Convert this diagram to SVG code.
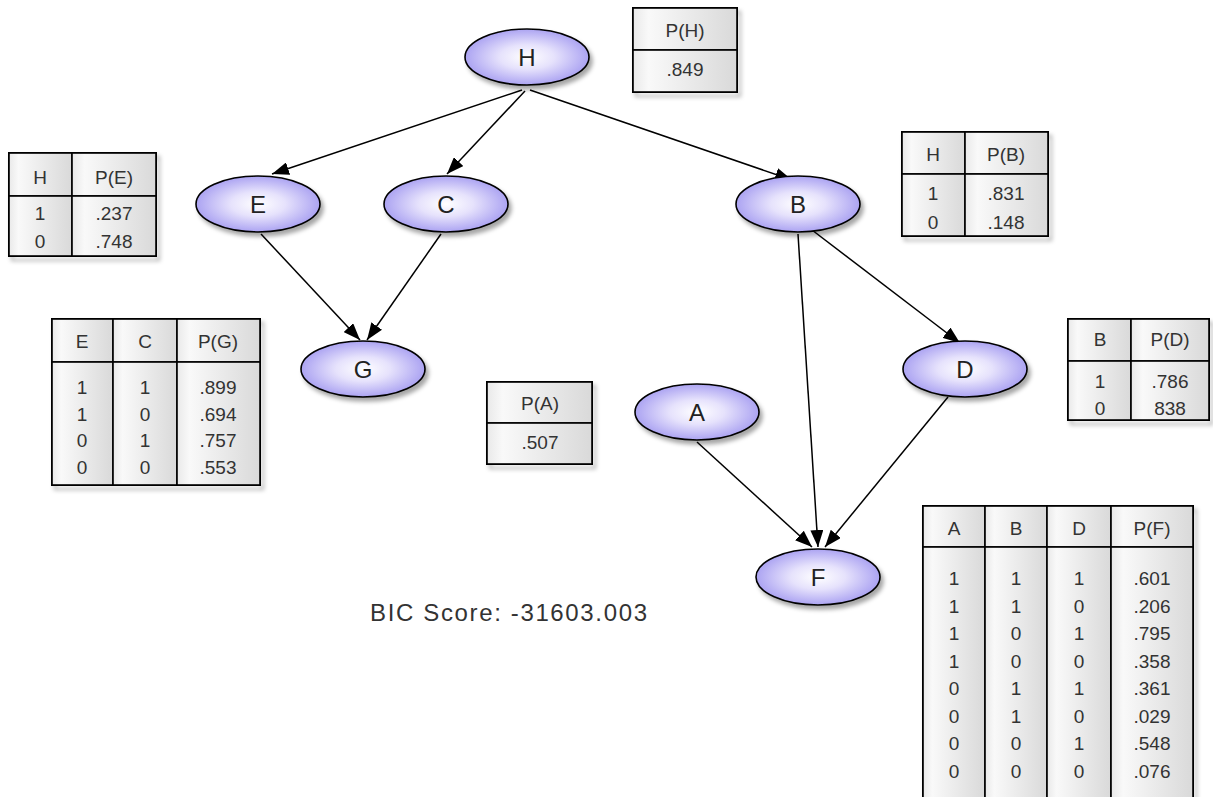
<svg xmlns="http://www.w3.org/2000/svg" width="1213" height="797" viewBox="0 0 1213 797">
  <defs>
    <radialGradient id="nodeFill" cx="50%" cy="50%" r="55%">
      <stop offset="0%" stop-color="#ffffff"/>
      <stop offset="40%" stop-color="#e6e2fc"/>
      <stop offset="100%" stop-color="#a198f0"/>
    </radialGradient>
    <linearGradient id="cellFill" x1="0" y1="0" x2="1" y2="0">
      <stop offset="0%" stop-color="#e9e9e9"/>
      <stop offset="15%" stop-color="#f9f9f9"/>
      <stop offset="100%" stop-color="#d9d9d9"/>
    </linearGradient>
    <filter id="shadow" x="-10%" y="-10%" width="130%" height="140%">
      <feDropShadow dx="3" dy="4" stdDeviation="2.2" flood-color="#000" flood-opacity="0.35"/>
    </filter>
    <marker id="arrow" viewBox="0 0 17 13" refX="17" refY="6.5" markerWidth="17" markerHeight="13" markerUnits="userSpaceOnUse" orient="auto">
      <path d="M0,0 L17,6.5 L0,13 z" fill="#000"/>
    </marker>
  </defs>
  <style>
    .node ellipse { fill: url(#nodeFill); stroke: #000; stroke-width: 1.6; filter: url(#shadow); }
    .node text { font-family: "Liberation Sans", Arial, sans-serif; font-size: 24px; fill: #222; text-anchor: middle; }
    .edge { stroke: #000; stroke-width: 1.5; fill: none; marker-end: url(#arrow); }
    .tbl .frame { fill: none; stroke: #000; stroke-width: 2; filter: url(#shadow); }
    .tbl .cell { fill: url(#cellFill); stroke: #000; stroke-width: 1.6; }
    .tbl text { font-family: "Liberation Sans", Arial, sans-serif; font-size: 19px; fill: #333; text-anchor: middle; }
    .score { font-family: "Liberation Sans", Arial, sans-serif; font-size: 24px; fill: #333; }
  </style>

  <rect width="1213" height="797" fill="#ffffff"/>

  <!-- connectors -->
  <g id="edges">
    <line class="edge" x1="522" y1="90" x2="272" y2="174"/>
    <line class="edge" x1="525" y1="91" x2="447" y2="174"/>
    <line class="edge" x1="530" y1="90" x2="792" y2="180"/>
    <line class="edge" x1="261" y1="234" x2="360" y2="340"/>
    <line class="edge" x1="441" y1="234" x2="367" y2="340"/>
    <line class="edge" x1="798" y1="234" x2="818" y2="547"/>
    <line class="edge" x1="812" y1="230" x2="960" y2="343"/>
    <line class="edge" x1="697" y1="442" x2="812" y2="547"/>
    <line class="edge" x1="948" y1="397" x2="825" y2="547"/>
  </g>

  <!-- nodes -->
  <g id="node-H" class="node"><ellipse cx="527" cy="57" rx="62" ry="28"/><text x="527" y="66">H</text></g>
  <g id="node-E" class="node"><ellipse cx="258" cy="204" rx="62" ry="28"/><text x="258" y="213">E</text></g>
  <g id="node-C" class="node"><ellipse cx="446" cy="204" rx="62" ry="28"/><text x="446" y="213">C</text></g>
  <g id="node-B" class="node"><ellipse cx="798" cy="204" rx="62" ry="28"/><text x="798" y="213">B</text></g>
  <g id="node-G" class="node"><ellipse cx="363" cy="369" rx="62" ry="28"/><text x="363" y="378">G</text></g>
  <g id="node-D" class="node"><ellipse cx="965" cy="369" rx="62" ry="28"/><text x="965" y="378">D</text></g>
  <g id="node-A" class="node"><ellipse cx="697" cy="412" rx="62" ry="28"/><text x="697" y="421">A</text></g>
  <g id="node-F" class="node"><ellipse cx="818" cy="577" rx="62" ry="28"/><text x="818" y="586">F</text></g>

  <!-- probability tables -->
  <g id="table-H" class="tbl">
    <rect class="frame" x="633" y="8" width="104" height="84"/>
    <rect class="cell" x="633" y="8" width="104" height="42"/>
    <rect class="cell" x="633" y="50" width="104" height="42"/>
    <text x="685" y="37">P(H)</text>
    <text x="685" y="76">.849</text>
  </g>

  <g id="table-E" class="tbl">
    <rect class="frame" x="9" y="153" width="147" height="103"/>
    <rect class="cell" x="9" y="153" width="63" height="43"/>
    <rect class="cell" x="72" y="153" width="84" height="43"/>
    <rect class="cell" x="9" y="196" width="63" height="60"/>
    <rect class="cell" x="72" y="196" width="84" height="60"/>
    <text x="40" y="184">H</text><text x="114" y="184">P(E)</text>
    <text x="40" y="220">1</text><text x="114" y="220">.237</text>
    <text x="40" y="248">0</text><text x="114" y="248">.748</text>
  </g>

  <g id="table-B" class="tbl">
    <rect class="frame" x="902" y="132" width="146" height="104"/>
    <rect class="cell" x="902" y="132" width="63" height="42"/>
    <rect class="cell" x="965" y="132" width="83" height="42"/>
    <rect class="cell" x="902" y="174" width="63" height="62"/>
    <rect class="cell" x="965" y="174" width="83" height="62"/>
    <text x="933" y="161">H</text><text x="1006" y="161">P(B)</text>
    <text x="933" y="200">1</text><text x="1006" y="200">.831</text>
    <text x="933" y="229">0</text><text x="1006" y="229">.148</text>
  </g>

  <g id="table-G" class="tbl">
    <rect class="frame" x="52" y="319" width="208" height="166"/>
    <rect class="cell" x="52" y="319" width="61" height="43"/>
    <rect class="cell" x="113" y="319" width="64" height="43"/>
    <rect class="cell" x="177" y="319" width="83" height="43"/>
    <rect class="cell" x="52" y="362" width="61" height="123"/>
    <rect class="cell" x="113" y="362" width="64" height="123"/>
    <rect class="cell" x="177" y="362" width="83" height="123"/>
    <text x="82" y="348">E</text><text x="145" y="348">C</text><text x="218" y="348">P(G)</text>
    <text x="82" y="394">1</text><text x="145" y="394">1</text><text x="218" y="394">.899</text>
    <text x="82" y="421">1</text><text x="145" y="421">0</text><text x="218" y="421">.694</text>
    <text x="82" y="447">0</text><text x="145" y="447">1</text><text x="218" y="447">.757</text>
    <text x="82" y="474">0</text><text x="145" y="474">0</text><text x="218" y="474">.553</text>
  </g>

  <g id="table-A" class="tbl">
    <rect class="frame" x="487" y="382" width="105" height="82"/>
    <rect class="cell" x="487" y="382" width="105" height="41"/>
    <rect class="cell" x="487" y="423" width="105" height="41"/>
    <text x="540" y="410">P(A)</text>
    <text x="540" y="449">.507</text>
  </g>

  <g id="table-D" class="tbl">
    <rect class="frame" x="1068" y="319" width="141" height="101"/>
    <rect class="cell" x="1068" y="319" width="63" height="42"/>
    <rect class="cell" x="1131" y="319" width="78" height="42"/>
    <rect class="cell" x="1068" y="361" width="63" height="59"/>
    <rect class="cell" x="1131" y="361" width="78" height="59"/>
    <text x="1100" y="346">B</text><text x="1170" y="346">P(D)</text>
    <text x="1100" y="388">1</text><text x="1170" y="388">.786</text>
    <text x="1100" y="415">0</text><text x="1170" y="415">838</text>
  </g>

  <g id="table-F" class="tbl">
    <rect class="frame" x="923" y="506" width="270" height="300"/>
    <rect class="cell" x="923" y="506" width="62" height="41"/>
    <rect class="cell" x="985" y="506" width="62" height="41"/>
    <rect class="cell" x="1047" y="506" width="64" height="41"/>
    <rect class="cell" x="1111" y="506" width="82" height="41"/>
    <rect class="cell" x="923" y="547" width="62" height="259"/>
    <rect class="cell" x="985" y="547" width="62" height="259"/>
    <rect class="cell" x="1047" y="547" width="64" height="259"/>
    <rect class="cell" x="1111" y="547" width="82" height="259"/>
    <text x="954" y="535">A</text><text x="1016" y="535">B</text><text x="1079" y="535">D</text><text x="1152" y="535">P(F)</text>
    <text x="954" y="585">1</text><text x="1016" y="585">1</text><text x="1079" y="585">1</text><text x="1152" y="585">.601</text>
    <text x="954" y="613">1</text><text x="1016" y="613">1</text><text x="1079" y="613">0</text><text x="1152" y="613">.206</text>
    <text x="954" y="640">1</text><text x="1016" y="640">0</text><text x="1079" y="640">1</text><text x="1152" y="640">.795</text>
    <text x="954" y="668">1</text><text x="1016" y="668">0</text><text x="1079" y="668">0</text><text x="1152" y="668">.358</text>
    <text x="954" y="695">0</text><text x="1016" y="695">1</text><text x="1079" y="695">1</text><text x="1152" y="695">.361</text>
    <text x="954" y="723">0</text><text x="1016" y="723">1</text><text x="1079" y="723">0</text><text x="1152" y="723">.029</text>
    <text x="954" y="750">0</text><text x="1016" y="750">0</text><text x="1079" y="750">1</text><text x="1152" y="750">.548</text>
    <text x="954" y="778">0</text><text x="1016" y="778">0</text><text x="1079" y="778">0</text><text x="1152" y="778">.076</text>
  </g>

  <text id="score" class="score" x="370" y="621" textLength="277" lengthAdjust="spacing">BIC Score: -31603.003</text>
</svg>
